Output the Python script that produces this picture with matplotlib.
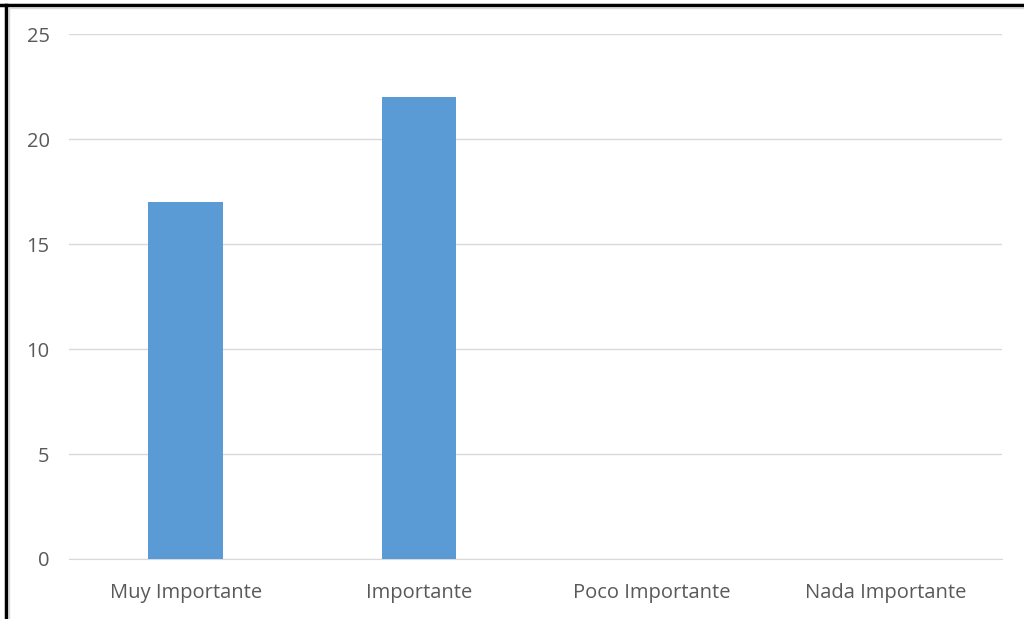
import matplotlib.pyplot as plt
from matplotlib.lines import Line2D

categorias = ["Muy Importante", "Importante", "Poco Importante", "Nada Importante"]
valores = [17, 22, 0, 0]
ticks_y = [0, 5, 10, 15, 20, 25]

plt.rcParams['font.family'] = ['Open Sans', 'DejaVu Sans']

fig = plt.figure(figsize=(10.24, 6.19), dpi=100)
ax = fig.add_axes([69/1024, 1-559/619, 933/1024, 525/619])

x = range(len(categorias))
ax.bar(x, valores, width=0.32, color='#5B9BD5', zorder=3)
ax.set_xlim(-0.5, len(categorias)-0.5)
ax.set_ylim(0, 25)
ax.set_yticks(ticks_y)
ax.set_xticks(list(x))
ax.set_xticklabels(categorias)
ax.grid(axis='y', color='#D9D9D9', linewidth=1, zorder=0)
for s in ['top', 'right', 'left']:
    ax.spines[s].set_visible(False)
ax.spines['bottom'].set_color('#D9D9D9')
ax.tick_params(axis='both', length=0, labelsize=14.5, colors='#595959')
ax.tick_params(axis='x', pad=17)
ax.tick_params(axis='y', pad=14)

# marco exterior
fig.add_artist(Line2D([0, 1], [1-5/619, 1-5/619], color='black', linewidth=2.5, transform=fig.transFigure))
fig.add_artist(Line2D([6/1024, 6/1024], [0, 1-5/619], color='black', linewidth=2.5, transform=fig.transFigure))
fig.add_artist(Line2D([8.5/1024, 1], [1-7.5/619, 1-7.5/619], color='#D9D9D9', linewidth=1, transform=fig.transFigure))
fig.add_artist(Line2D([8.5/1024, 8.5/1024], [0, 1-7.5/619], color='#D9D9D9', linewidth=1, transform=fig.transFigure))

fig.savefig('out.png', dpi=100)
